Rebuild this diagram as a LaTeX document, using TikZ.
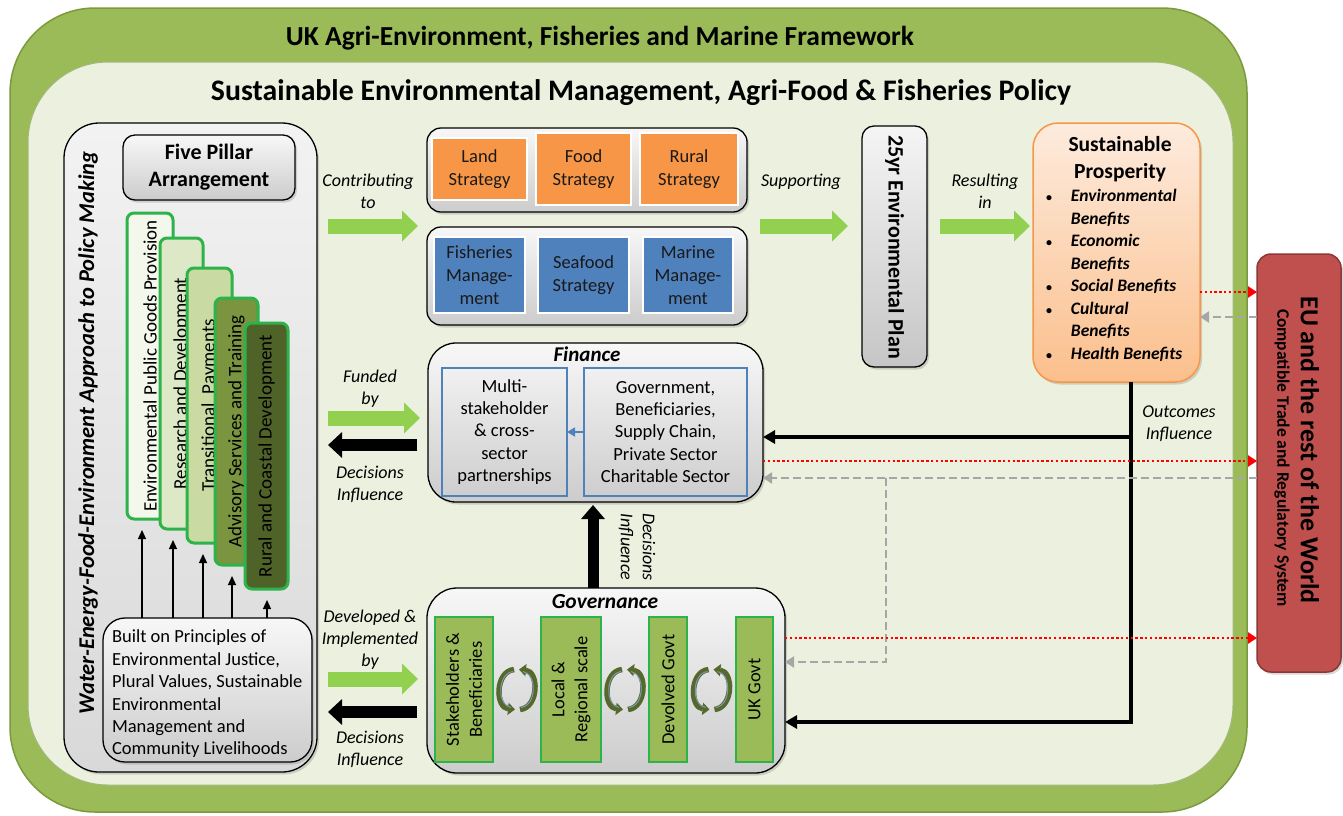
\documentclass[tikz,border=0pt]{standalone}
\usepackage{fontspec}
\setmainfont{Carlito}
\usetikzlibrary{arrows.meta,shadows,calc}
\definecolor{outergreen}{HTML}{9BBB59}
\definecolor{outerline}{HTML}{7A9A3E}
\definecolor{innerbg}{HTML}{EBF1DE}
\definecolor{arrowgreen}{HTML}{92D050}
\definecolor{pillarline}{HTML}{2DB34A}
\definecolor{pone}{HTML}{F3F7EC}
\definecolor{ptwo}{HTML}{DDE8C6}
\definecolor{pthree}{HTML}{C9DBA3}
\definecolor{pfour}{HTML}{7A9440}
\definecolor{pfive}{HTML}{4F6228}
\definecolor{orangebox}{HTML}{F79646}
\definecolor{bluebox}{HTML}{4F81BD}
\definecolor{redbox}{HTML}{C0504D}
\definecolor{redline}{HTML}{8C3836}
\definecolor{proslight}{HTML}{FDEBDD}
\definecolor{prosdark}{HTML}{FBBF8C}
\definecolor{prosline}{HTML}{F79646}
\definecolor{govgreen}{HTML}{9BBB59}
\definecolor{cycgreen}{HTML}{55692B}
\definecolor{cycblue}{HTML}{7F97B5}
\definecolor{dashgray}{HTML}{A6A6A6}
\newcommand{\fsz}[2]{\fontsize{#1}{#2}\selectfont}
\newcommand{\sbul}{{\fontsize{12}{12}\selectfont\upshape\textbullet}}
\begin{document}
\begin{tikzpicture}[x=1pt,y=-1pt,
  every node/.style={inner sep=0pt, outer sep=0pt},
  shad/.style={drop shadow={shadow xshift=2pt,shadow yshift=-2.5pt,opacity=0.3}},
  graybox/.style={draw=black, line width=1.3pt, top color=gray!6, bottom color=gray!40, shad},
  pillarbox/.style={draw=pillarline, line width=3pt, rounded corners=7pt, text=black, font=\fsz{19}{22}, rotate=90},
  stratbox/.style={draw=white, line width=2pt, text=black!90, font=\fsz{18.5}{23}, align=center},
  grbox/.style={draw=pillarline, line width=1.3pt, fill=govgreen, font=\fsz{18.5}{23}, align=center, rotate=90},
  finbox/.style={draw=bluebox, line width=2pt, align=center, font=\fsz{18.5}{22.3}},
  lbl/.style={font=\fsz{18}{22}\itshape, align=center},
  garrow/.style={draw=arrowgreen, line width=15pt, -{Triangle[length=16pt,width=30pt]}},
  karrow/.style={draw=black, line width=12pt, -{Triangle[length=14pt,width=25pt]}},
  conn/.style={draw=black, line width=3.5pt, -{Triangle[length=12pt,width=13pt]}},
  reddot/.style={draw=red, line width=2.6pt, dash pattern=on 2.4pt off 2.4pt, -{Triangle[length=9pt,width=11pt]}},
  graydash/.style={draw=dashgray, line width=2.6pt, dash pattern=on 8pt off 4pt, -{Triangle[length=9pt,width=11pt]}},
  upar/.style={draw=black, line width=1.3pt, -{Triangle[length=9pt,width=8pt]}},
  cyc/.style={draw=cycgreen, line width=5.5pt, -{Triangle[length=7pt,width=12pt]}},
  cycin/.style={draw=cycblue, line width=1pt},
]
\useasboundingbox (0,0) rectangle (1343,815);
% frames
\draw[draw=outerline, fill=outergreen, line width=1.5pt, rounded corners=85pt] (10,8) rectangle (1247,812);
\draw[draw=outerline!70, fill=innerbg, line width=1pt, rounded corners=80pt] (28,62) rectangle (1233,785);
\node[font=\fsz{27.5}{30}\bfseries] (t1) at (600,38) {UK Agri-Environment, Fisheries and Marine Framework};
\node[font=\fsz{29.8}{32}\bfseries] (t2) at (641,93) {Sustainable Environmental Management, Agri-Food \& Fisheries Policy};

% left panel
\node[graybox, rounded corners=35pt, minimum width=253pt, minimum height=649pt, top color=gray!10, bottom color=gray!30] (lp) at (190.5,447.5) {};
\node[rotate=90, font=\fsz{22.5}{26}\bfseries\itshape] (lpt) at (88,433) {Water-Energy-Food-Environment Approach to Policy Making};
\node[graybox, rounded corners=12pt, minimum width=172pt, minimum height=65pt, font=\fsz{22}{27}\bfseries, align=center] (fp) at (209,167.5) {Five Pillar\\Arrangement};
\node[pillarbox, fill=pone, minimum width=306pt, minimum height=46pt] (p1) at (150,366) {Environmental Public Goods Provision};
\node[pillarbox, fill=ptwo, minimum width=291pt, minimum height=43pt] (p2) at (181.5,383.5) {Research and Development};
\node[pillarbox, fill=pthree, minimum width=275pt, minimum height=45pt] (p3) at (209.5,405.5) {Transitional\ \ Payments};
\node[pillarbox, fill=pfour, minimum width=267pt, minimum height=43pt] (p4) at (236.5,431.5) {Advisory Services and Training};
\node[pillarbox, fill=pfive, minimum width=266pt, minimum height=43pt] (p5) at (266.5,456) {Rural and Coastal Development};
\node[graybox, rounded corners=22pt, minimum width=209pt, minimum height=144pt] (bb) at (207.5,690) {};
\node[anchor=west, align=left, font=\fsz{18.5}{22.4}] (bbt) at (112,694) {Built on Principles of\\Environmental Justice,\\Plural Values, Sustainable\\Environmental\\Management and\\Community Livelihoods};
\foreach \p/\dx in {p1/-8, p2/-8.5, p3/-6.5, p4/-4.5, p5/0.5}
  \draw[upar] ($(\p.west |- bb.north)+(\dx,0)$) -- ($(\p.west)+(\dx,11)$);

% strategies
\node[graybox, rounded corners=14pt, minimum width=320pt, minimum height=84pt] (ts) at (587,170) {};
\node[stratbox, fill=orangebox, minimum width=95pt, minimum height=62pt] (land) at (479.5,169) {Land\\Strategy};
\node[stratbox, fill=orangebox, minimum width=95pt, minimum height=72pt] (food) at (583.5,169) {Food\\Strategy};
\node[stratbox, fill=orangebox, minimum width=98pt, minimum height=72pt] (rural) at (689,169) {Rural\\Strategy};
\node[graybox, rounded corners=14pt, minimum width=320pt, minimum height=98pt] (bs) at (587,276) {};
\node[stratbox, fill=bluebox, minimum width=91pt, minimum height=76pt] (fish) at (479.5,275) {Fisheries\\Manage-\\ment};
\node[stratbox, fill=bluebox, minimum width=91pt, minimum height=76pt] (seaf) at (583.5,275) {Seafood\\Strategy};
\node[stratbox, fill=bluebox, minimum width=90pt, minimum height=76pt] (marine) at (688,275) {Marine\\Manage-\\ment};

\node[lbl] (contrib) at (368,191) {Contributing\\to};
\draw[garrow] ($(lp.east |- 0,226)+(11,0)$) -- ($(ts.west |- 0,226)+(-9,0)$);

% plan
\node[graybox, rounded corners=12pt, minimum width=65pt, minimum height=241pt, top color=gray!8, bottom color=gray!45] (plan) at (894.5,246.5) {};
\node[rotate=-90, font=\fsz{22}{26}\bfseries] (plant) at (894.5,247) {25yr Environmental Plan};
\node[lbl] (supp) at (801,182) {Supporting};
\draw[garrow] ($(ts.east |- 0,226)+(13,0)$) -- ($(plan.west |- 0,226)+(-14,0)$);

% prosperity
\node[draw=prosline, line width=1.5pt, top color=proslight, bottom color=prosdark, rounded corners=25pt, minimum width=167pt, minimum height=259pt, shad] (sp) at (1116.5,252.5) {};
\node[font=\fsz{21.5}{27}\bfseries, align=center] (spt) at (1120,159.5) {Sustainable\\Prosperity};
\node[anchor=north west, font=\fsz{17.5}{22.5}\bfseries\itshape] (spl) at (1046,186) {\begin{tabular}{@{}l@{\hspace{19pt}}l@{}}
\sbul & Environmental\\ & Benefits\\ \sbul & Economic\\ & Benefits\\ \sbul & Social Benefits\\ \sbul & Cultural\\ & Benefits\\ \sbul & Health Benefits\end{tabular}};
\node[lbl] (resl) at (985,191) {Resulting\\in};
\draw[garrow] ($(plan.east |- 0,226)+(13,0)$) -- ($(sp.west |- 0,226)+(-3,0)$);

% EU
\node[draw=redline, fill=redbox, line width=1.5pt, rounded corners=14pt, minimum width=84pt, minimum height=418pt, shad] (eu) at (1299,463) {};
\node[rotate=-90, font=\fsz{26}{30}\bfseries] (eut1) at (1310,450) {EU and the rest of the World};
\node[rotate=-90, font=\fsz{17.5}{20}\bfseries] (eut2) at (1282,458) {Compatible Trade and Regulatory System};

% finance
\node[graybox, rounded corners=28pt, minimum width=335pt, minimum height=159pt] (fin) at (595.5,422.5) {};
\node[font=\fsz{21}{24}\bfseries\itshape] (fint) at (587,354) {Finance};
\node[finbox, minimum width=125pt, minimum height=128pt] (multi) at (504.5,432) {Multi-\\stakeholder\\\& cross-\\sector\\partnerships};
\node[finbox, minimum width=163pt, minimum height=128pt] (govs) at (665.5,432) {Government,\\Beneficiaries,\\Supply Chain,\\Private Sector\\Charitable Sector};
\draw[draw=bluebox, line width=1.5pt, -{Triangle[length=8pt,width=9pt]}] (govs.west) -- (multi.east);
\node[lbl] (fund) at (370,388.5) {Funded\\by};
\draw[garrow] ($(lp.east |- 0,418)+(11,0)$) -- ($(fin.west |- 0,418)+(-8,0)$);
\draw[karrow] ($(fin.west |- 0,445)+(-11,0)$) -- ($(lp.east |- 0,445)+(11,0)$);
\node[lbl] (dec1) at (370,484) {Decisions\\Influence};

% governance
\node[graybox, rounded corners=30pt, minimum width=358pt, minimum height=185pt] (govn) at (606,680.5) {};
\node[font=\fsz{21.5}{24}\bfseries\itshape] (govt) at (605,602) {Governance};
\node[grbox, minimum width=145pt, minimum height=58pt] (s1) at (464,689.5) {Stakeholders \&\\Beneficiaries};
\node[grbox, minimum width=145pt, minimum height=60pt] (s2) at (571,689.5) {Local \&\\Regional scale};
\node[grbox, minimum width=145pt, minimum height=38pt] (s3) at (668,689.5) {Devolved Govt};
\node[grbox, minimum width=145pt, minimum height=37pt] (s4) at (754.5,689.5) {UK Govt};
\coordinate (c1) at ($(s1.south)!0.5!(s2.north)$);
\coordinate (c2) at ($(s2.south)!0.5!(s3.north)$);
\coordinate (c3) at ($(s3.south)!0.5!(s4.north)$);
\foreach \c in {c1,c2,c3} {
  \draw[cyc] ($(\c)+(-3,-20)$) .. controls ($(\c)+(-22,-18)$) and ($(\c)+(-22,18)$) .. ($(\c)+(-2,20)$);
  \draw[cyc] ($(\c)+(3,20)$) .. controls ($(\c)+(22,18)$) and ($(\c)+(22,-18)$) .. ($(\c)+(2,-20)$);
  \draw[cycin] ($(\c)+(-4,-18)$) .. controls ($(\c)+(-20,-16)$) and ($(\c)+(-20,16)$) .. ($(\c)+(-6,18)$);
  \draw[cycin] ($(\c)+(4,18)$) .. controls ($(\c)+(20,16)$) and ($(\c)+(20,-16)$) .. ($(\c)+(6,-18)$);
}
\draw[karrow, line width=11pt, -{Triangle[length=14pt,width=23pt]}] ($(govn.north)+(-13,0)$) -- ($(fin.south)+(-2.5,3)$);
\node[lbl, rotate=-90] (dec3) at (637,547) {Decisions\\Influence};
\node[lbl] (devl) at (370,640) {Developed \&\\Implemented\\by};
\draw[garrow] ($(lp.east |- 0,679)+(11,0)$) -- ($(govn.west |- 0,679)+(-9,0)$);
\draw[karrow] ($(govn.west |- 0,712)+(-10,0)$) -- ($(lp.east |- 0,712)+(11,0)$);
\node[lbl] (dec2) at (370,749) {Decisions\\Influence};

% outcomes
\coordinate (oj1) at ($(sp.south)+(14.5,0)$);
\coordinate (oj2) at (oj1 |- 0,437);
\coordinate (oj3) at (oj1 |- 0,722);
\draw[conn] (oj1) -- (oj3) -- (govn.east |- oj3);
\draw[conn] (oj2) -- (fin.east |- oj2);
\node[lbl] (outc) at (1179,424) {Outcomes\\Influence};

% trade links
\draw[reddot] (sp.east |- 0,292) -- (eu.west |- 0,292);
\draw[graydash] (eu.west |- 0,317) -- (sp.east |- 0,317);
\draw[reddot] (fin.east |- 0,461) -- (eu.west |- 0,461);
\draw[graydash] (eu.west |- 0,478) -- (fin.east |- 0,478);
\coordinate (gb) at (886,478);
\draw[graydash] (gb) -- (gb |- 0,662) -- (govn.east |- 0,662);
\draw[reddot] (govn.east |- 0,638) -- (eu.west |- 0,638);
\end{tikzpicture}
\end{document}
